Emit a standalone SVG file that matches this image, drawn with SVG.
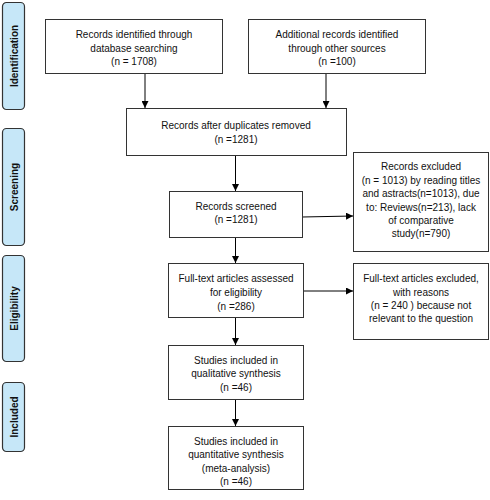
<svg xmlns="http://www.w3.org/2000/svg" width="490" height="500" viewBox="0 0 490 500">
<defs>
<marker id="ah" viewBox="0 0 10 10" refX="10" refY="5" markerWidth="7" markerHeight="7" markerUnits="userSpaceOnUse" orient="auto">
<path d="M0,0 L10,5 L0,10 z" fill="#000"/>
</marker>
<style>
.box{fill:#fff;stroke:#333;stroke-width:1}
.stage{fill:#c6e7f8;stroke:#333;stroke-width:1.2}
.t{font-family:"Liberation Sans",Arial,sans-serif;font-size:10px;fill:#111;text-anchor:middle}
.s{font-family:"Liberation Sans",Arial,sans-serif;font-size:10px;font-weight:bold;fill:#111;text-anchor:middle}
.c{stroke:#000;stroke-width:1;fill:none;marker-end:url(#ah)}
</style>
</defs>
<rect width="490" height="500" fill="#fff"/>
<g id="stage-identification"><rect class="stage" x="2.5" y="2.5" width="22" height="107" rx="4"/><text class="s" transform="translate(17.5,56) rotate(-90)">Identification</text></g>
<g id="stage-screening"><rect class="stage" x="2.5" y="128.5" width="22" height="117" rx="4"/><text class="s" transform="translate(17.5,187) rotate(-90)">Screening</text></g>
<g id="stage-eligibility"><rect class="stage" x="2.5" y="255.5" width="22" height="106" rx="4"/><text class="s" transform="translate(17.5,308.5) rotate(-90)">Eligibility</text></g>
<g id="stage-included"><rect class="stage" x="2.5" y="382.5" width="22" height="69" rx="4"/><text class="s" transform="translate(17.5,417) rotate(-90)">Included</text></g>

<g id="connectors">
<line class="c" x1="145" y1="73" x2="145" y2="108"/>
<line class="c" x1="326" y1="73" x2="326" y2="108"/>
<line class="c" x1="235.5" y1="155" x2="235.5" y2="191"/>
<line class="c" x1="235.5" y1="237" x2="235.5" y2="263"/>
<line class="c" x1="235.5" y1="317" x2="235.5" y2="345"/>
<line class="c" x1="235.5" y1="399" x2="235.5" y2="426"/>
<line class="c" x1="302" y1="217" x2="353" y2="216"/>
<line class="c" x1="303" y1="291" x2="353" y2="291"/>
</g>

<g id="n1"><rect class="box" x="45.5" y="19.5" width="177" height="54"/>
<text class="t" x="134" y="37.5">Records identified through</text>
<text class="t" x="134" y="51.5">database searching</text>
<text class="t" x="134" y="64.5">(n = 1708)</text></g>

<g id="n2"><rect class="box" x="248.5" y="19.5" width="177" height="54"/>
<text class="t" x="337" y="37.5">Additional records identified</text>
<text class="t" x="337" y="51.5">through other sources</text>
<text class="t" x="337" y="64.5">(n =100)</text></g>

<g id="n3"><rect class="box" x="126.5" y="108.5" width="220" height="47"/>
<text class="t" x="236" y="128.5">Records after duplicates removed</text>
<text class="t" x="236" y="142.5">(n =1281)</text></g>

<g id="n4"><rect class="box" x="169.5" y="191.5" width="133" height="46"/>
<text class="t" x="236" y="209.5">Records screened</text>
<text class="t" x="236" y="222.5">(n =1281)</text></g>

<g id="n5"><rect class="box" x="168.5" y="263.5" width="135" height="54"/>
<text class="t" x="236" y="281.5">Full-text articles assessed</text>
<text class="t" x="236" y="295.5">for eligibility</text>
<text class="t" x="236" y="309.5">(n =286)</text></g>

<g id="n6"><rect class="box" x="168.5" y="345.5" width="135" height="54"/>
<text class="t" x="236" y="363.5">Studies included in</text>
<text class="t" x="236" y="376.5">qualitative synthesis</text>
<text class="t" x="236" y="390.5">(n =46)</text></g>

<g id="n7"><rect class="box" x="168.5" y="426.5" width="135" height="63"/>
<text class="t" x="236" y="444.5">Studies included in</text>
<text class="t" x="236" y="457.5">quantitative synthesis</text>
<text class="t" x="236" y="471.5">(meta-analysis)</text>
<text class="t" x="236" y="484.5">(n =46)</text></g>

<g id="n8"><rect class="box" x="353.5" y="152.5" width="135" height="99"/>
<text class="t" x="421" y="169.5">Records excluded</text>
<text class="t" x="421" y="183.5">(n = 1013) by reading titles</text>
<text class="t" x="421" y="196.5">and astracts(n=1013), due</text>
<text class="t" x="421" y="210.5">to: Reviews(n=213), lack</text>
<text class="t" x="421" y="223.5">of comparative</text>
<text class="t" x="421" y="236.5">study(n=790)</text></g>

<g id="n9"><rect class="box" x="353.5" y="263.5" width="135" height="76"/>
<text class="t" x="421" y="281.5">Full-text articles excluded,</text>
<text class="t" x="421" y="295.5">with reasons</text>
<text class="t" x="421" y="308.5">(n = 240 ) because not</text>
<text class="t" x="421" y="321.5">relevant to the question</text></g>
</svg>
